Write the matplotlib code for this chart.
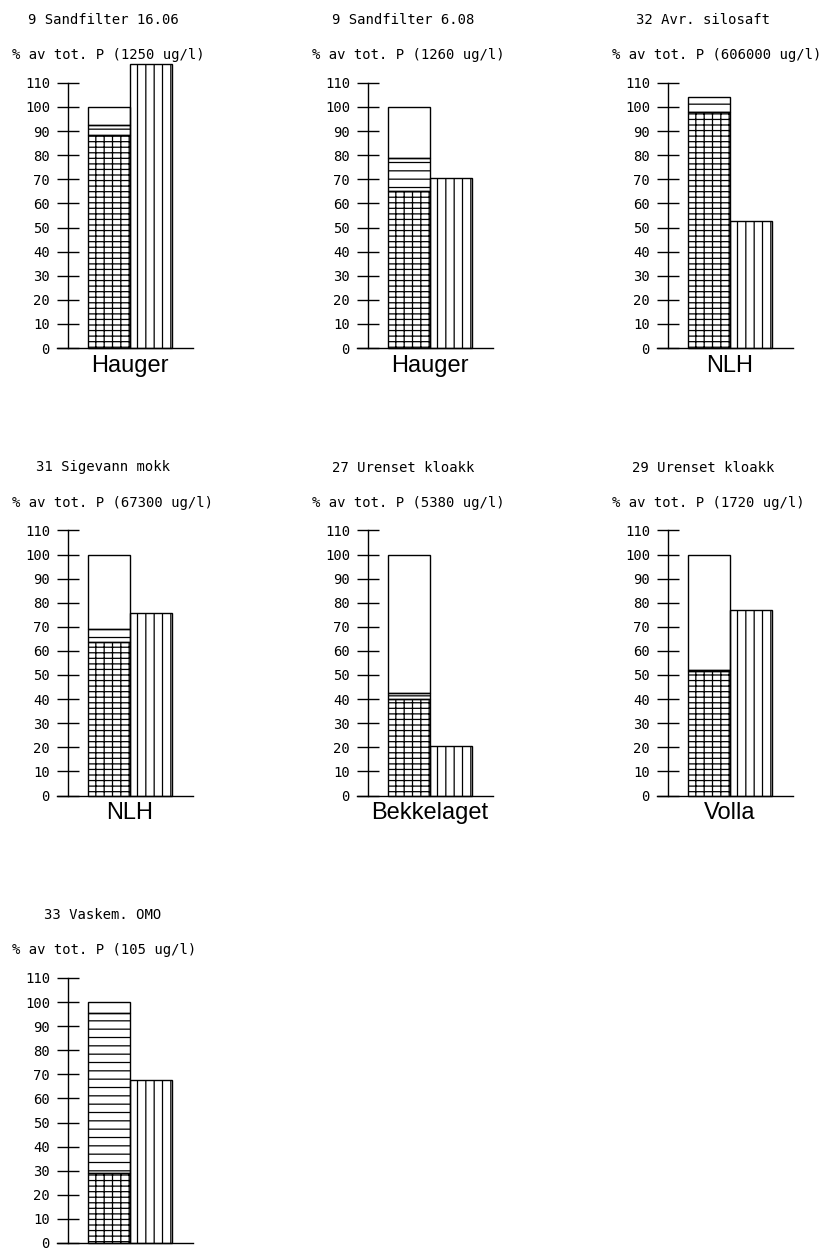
import matplotlib
matplotlib.use("Agg")
import matplotlib.pyplot as plt

# -- data (percent of total P) -------------------------------------------------
titles = ["9 Sandfilter 16.06", "9 Sandfilter 6.08", "32 Avr. silosaft",
          "31 Sigevann mokk", "27 Urenset kloakk", "29 Urenset kloakk",
          "33 Vaskem. OMO"]
totals = ["1250", "1260", "606000", "67300", "5380", "1720", "105"]
sites = ["Hauger", "Hauger", "NLH", "NLH", "Bekkelaget", "Volla", ""]
cross = [88.5, 65.0, 98.0, 63.5, 40.0, 51.7, 29.0]      # crosshatched part
horiz = [4.0, 14.0, 6.0, 5.5, 2.7, 0.5, 66.4]           # horizontal-lined part
blank = [7.5, 21.0, 0.0, 31.0, 57.3, 47.8, 4.6]         # open part
vert = [118.0, 70.5, 52.7, 75.8, 20.5, 77.0, 67.8]      # second bar
yticks = list(range(0, 111, 10))

W, H = 835, 1250
plt.rcParams["hatch.linewidth"] = 0.9
mono = "DejaVu Sans Mono"

fig = plt.figure(figsize=(W / 100, H / 100), dpi=100, facecolor="white")

unit = 42.0            # px per bar width
ppy = 2.41             # px per percent
xl, xr = -0.5 - 31 / unit, 2.0

for i in range(len(titles)):
    r, c = divmod(i, 3)
    axis_x = 68 + 300 * c
    base_y = 348 + 447.5 * r
    left_px = axis_x - 11
    width_px = (xr - xl) * unit
    height_px = 125 * ppy
    ax = fig.add_axes([left_px / W, (H - base_y) / H, width_px / W, height_px / H])
    ax.set_xlim(xl, xr)
    ax.set_ylim(0, 125)
    ax.patch.set_visible(False)

    kw = dict(width=1.0, fill=False, edgecolor="black", linewidth=1.0, clip_on=False)
    ax.bar(0, cross[i], hatch="++-", **kw)
    if horiz[i] > 0:
        ax.bar(0, horiz[i], bottom=cross[i], hatch="--", **kw)
    if blank[i] > 0:
        ax.bar(0, blank[i], bottom=cross[i] + horiz[i], **kw)
    ax.bar(1, vert[i], hatch="||", **kw)

    for s in ("top", "right"):
        ax.spines[s].set_visible(False)
    ax.spines["left"].set_position(("data", -0.5 - 20 / unit))
    ax.spines["left"].set_bounds(0, 110)
    ax.spines["left"].set_linewidth(1.0)
    ax.spines["bottom"].set_linewidth(1.0)

    ax.set_yticks(yticks)
    ax.set_yticklabels([str(t) for t in yticks], family=mono, fontsize=10)
    ax.tick_params(axis="y", direction="inout", length=16, width=1.0, pad=5)
    ax.set_xticks([0.5])
    ax.set_xticklabels([sites[i]], family="Liberation Sans", fontsize=17)
    ax.tick_params(axis="x", length=0, pad=5)

    fig.text((axis_x + 35) / W, 1 - (base_y - 328) / H, titles[i],
             family=mono, fontsize=10, ha="center", va="center")
    fig.text((axis_x - 56) / W, 1 - (base_y - 293) / H,
             f"% av tot. P ({totals[i]} ug/l)",
             family=mono, fontsize=10, ha="left", va="center")

fig.savefig("out.png", dpi=100, facecolor="white")
